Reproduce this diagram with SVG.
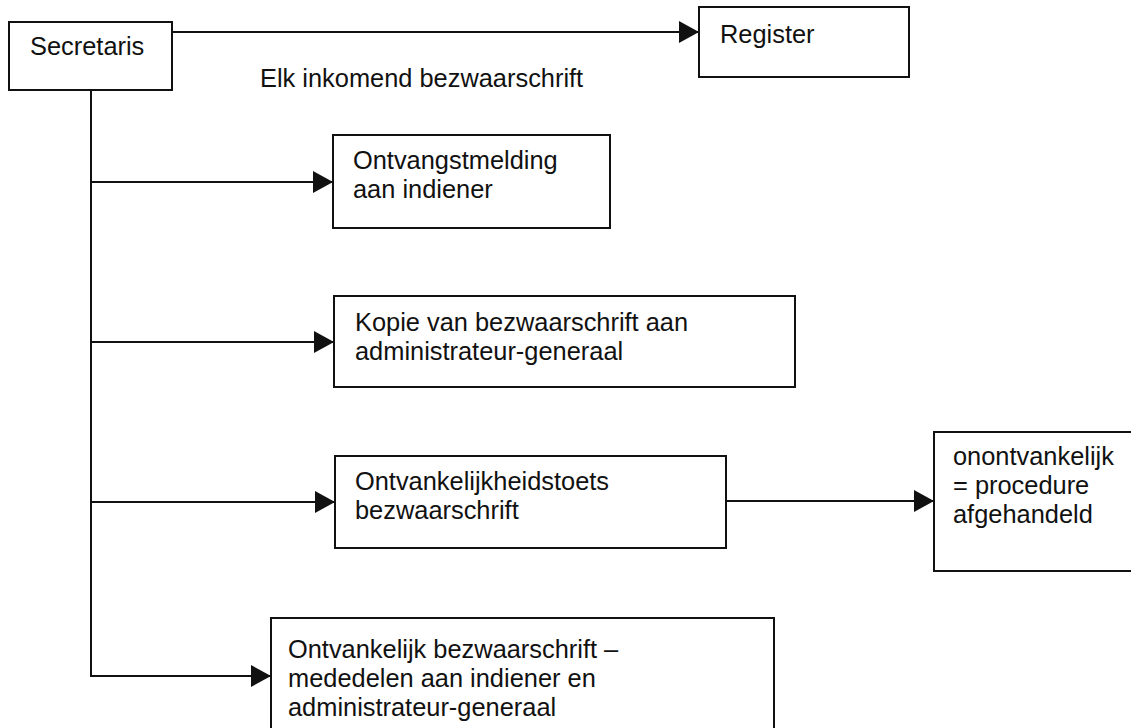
<svg xmlns="http://www.w3.org/2000/svg" width="1131" height="728" viewBox="0 0 1131 728">
<style>
  .box { fill: #ffffff; stroke: #111111; stroke-width: 2; }
  .lbl { font-family: "Liberation Sans", Arial, sans-serif; font-size: 25.4px; fill: #111111; }
  .con { fill: none; stroke: #111111; stroke-width: 2; }
</style>
<defs>
  <marker id="arr" markerUnits="userSpaceOnUse" markerWidth="20" markerHeight="22" refX="20" refY="11" orient="auto">
    <path d="M0,0 L20,11 L0,22 Z" fill="#111111"/>
  </marker>
</defs>
<rect width="1131" height="728" fill="#ffffff"/>
<g id="connectors">
  <line class="con" x1="172" y1="32" x2="699" y2="32" marker-end="url(#arr)"/>
  <polyline class="con" points="91,90 91,676"/>
  <line class="con" x1="91" y1="182" x2="333" y2="182" marker-end="url(#arr)"/>
  <line class="con" x1="91" y1="342" x2="334" y2="342" marker-end="url(#arr)"/>
  <line class="con" x1="91" y1="502" x2="335" y2="502" marker-end="url(#arr)"/>
  <line class="con" x1="90" y1="676" x2="271" y2="676" marker-end="url(#arr)"/>
  <line class="con" x1="726" y1="501" x2="934" y2="501" marker-end="url(#arr)"/>
  <text class="lbl" x="260" y="87">Elk inkomend bezwaarschrift</text>
</g>
<g id="secretaris">
  <rect class="box" x="9" y="22" width="163" height="68"/>
  <text class="lbl" x="30" y="55">Secretaris</text>
</g>
<g id="register">
  <rect class="box" x="699" y="7" width="210" height="70"/>
  <text class="lbl" x="720" y="43">Register</text>
</g>
<g id="ontvangstmelding">
  <rect class="box" x="333" y="135" width="277" height="93"/>
  <text class="lbl" x="353" y="169">Ontvangstmelding</text>
  <text class="lbl" x="353" y="198">aan indiener</text>
</g>
<g id="kopie">
  <rect class="box" x="334" y="296" width="461" height="91"/>
  <text class="lbl" x="355" y="331">Kopie van bezwaarschrift aan</text>
  <text class="lbl" x="355" y="360">administrateur-generaal</text>
</g>
<g id="toets">
  <rect class="box" x="335" y="456" width="391" height="92"/>
  <text class="lbl" x="355" y="490">Ontvankelijkheidstoets</text>
  <text class="lbl" x="355" y="519">bezwaarschrift</text>
</g>
<g id="onontvankelijk">
  <rect class="box" x="934" y="432" width="200" height="139"/>
  <text class="lbl" x="953" y="465">onontvankelijk</text>
  <text class="lbl" x="953" y="494">= procedure</text>
  <text class="lbl" x="953" y="523">afgehandeld</text>
</g>
<g id="ontvankelijk">
  <rect class="box" x="271" y="618" width="503" height="130"/>
  <text class="lbl" x="288" y="658">Ontvankelijk bezwaarschrift –</text>
  <text class="lbl" x="288" y="687">mededelen aan indiener en</text>
  <text class="lbl" x="288" y="716">administrateur-generaal</text>
</g>
</svg>
